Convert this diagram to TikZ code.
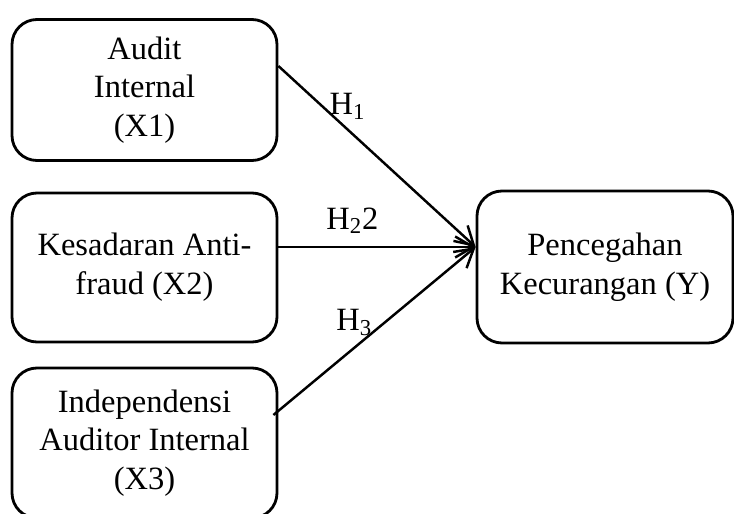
\documentclass[tikz,border=0pt]{standalone}
\usepackage{fontspec}
\setmainfont{Liberation Serif}
\usetikzlibrary{arrows.meta,positioning,calc}

\begin{document}
\begin{tikzpicture}[
    var/.style={rectangle, rounded corners=0.5cm, draw=black, line width=1.6pt,
                font=\fontsize{18.5}{22}\selectfont, align=center, inner sep=2pt},
    hyp/.style={font=\fontsize{18.5}{22}\selectfont},
    link/.style={-{Straight Barb[length=0.36cm, width=0.42cm]}, line width=1.4pt}
  ]
  \useasboundingbox (0,0) rectangle (14.68,-10.28);

  \node[var, minimum width=5.3cm, minimum height=2.82cm] (x1) at (2.89,-1.8)
    {Audit\\Internal\\(X1)};
  \node[var, minimum width=5.3cm, minimum height=2.98cm] (x2) at (2.89,-5.35)
    {Kesadaran Anti-\\fraud (X2)};
  \node[var, minimum width=5.3cm, minimum height=3.0cm] (x3) at (2.89,-8.86)
    {Independensi\\Auditor Internal\\(X3)};
  \node[var, minimum width=5.12cm, minimum height=3.04cm] (y) at (12.1,-5.34)
    {Pencegahan\\Kecurangan (Y)};

  \coordinate (yin) at ([yshift=0.4cm]y.west);
  \draw[link] ([yshift=0.48cm]x1.east) -- (yin)
    node[hyp, pos=0.35, above=0.06cm] {H\textsubscript{1}};
  \draw[link] (x2.east |- yin) -- (yin)
    node[hyp, pos=0.375, above=0.12cm] {H\textsubscript{2}2};
  \draw[link] ([xshift=-0.1cm, yshift=0.56cm]x3.east) -- (yin)
    node[hyp, pos=0.4, above=0.1cm] {H\textsubscript{3}};
\end{tikzpicture}
\end{document}
